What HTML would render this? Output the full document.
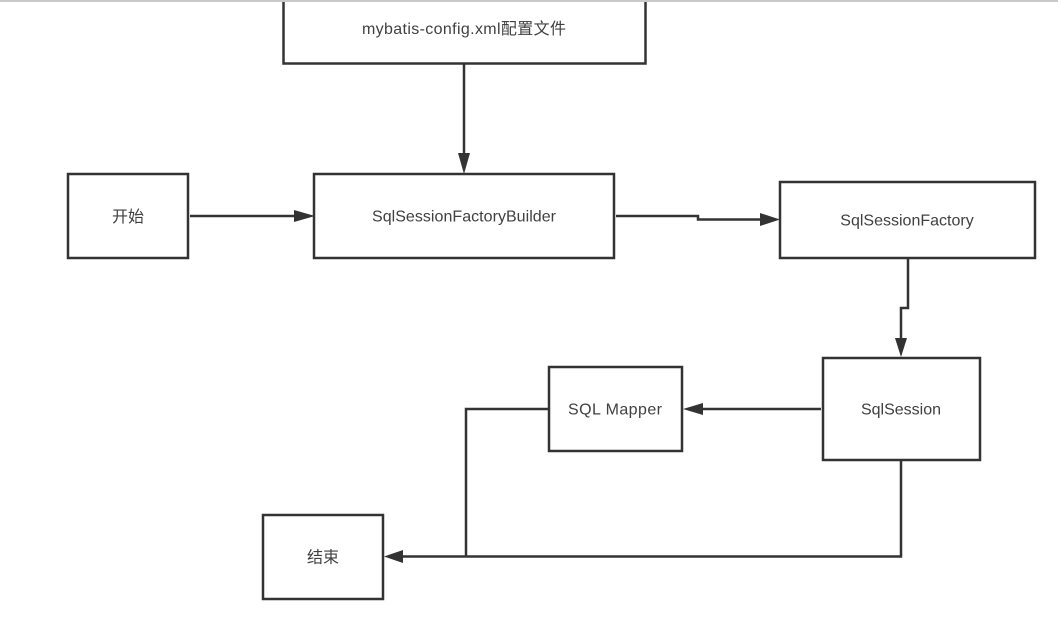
<!DOCTYPE html>
<html><head><meta charset="utf-8">
<style>
html,body{margin:0;padding:0;background:#fff;width:1058px;height:619px;overflow:hidden}
svg{display:block}
text{font-family:"Liberation Sans","Noto Sans CJK SC",sans-serif;font-size:16px;fill:#404040;text-anchor:middle}
</style></head><body>
<svg width="1058" height="619" viewBox="0 0 1058 619">
<rect x="0" y="0" width="1058" height="2" fill="#c9c9c9"/>
<g fill="#fff" stroke="#333" stroke-width="2.500">
<path d="M283.500 2V63.500H645.500V2"/>
<rect x="68" y="174" width="120" height="84"/>
<rect x="314" y="174" width="300" height="84"/>
<rect x="780" y="182" width="255" height="76"/>
<rect x="823" y="358" width="157" height="102"/>
<rect x="549" y="367" width="133" height="84"/>
<rect x="263" y="515" width="120" height="84"/>
</g>
<g fill="none" stroke="#333" stroke-width="2.500">
<path d="M464 64V156"/>
<path d="M190 216H297"/>
<path d="M616 216H698V219.500H762"/>
<path d="M908 259V308H901V340"/>
<path d="M821 409H700"/>
<path d="M549 409H466V556"/>
<path d="M901 460V556.500H402"/>
</g>
<g fill="#333">
<path d="M464 174L458 153H470Z"/>
<path d="M315 216L294 210V222Z"/>
<path d="M780 219.500L760 213V226Z"/>
<path d="M901 357L895 338H907Z"/>
<path d="M683 409L703 403V415Z"/>
<path d="M384 556.500L403 550V563Z"/>
</g>
<text x="464" y="34" textLength="204" lengthAdjust="spacing">mybatis-config.xml配置文件</text>
<text x="128" y="222">开始</text>
<text x="464" y="221.500" textLength="184" lengthAdjust="spacing">SqlSessionFactoryBuilder</text>
<text x="907" y="225.500">SqlSessionFactory</text>
<text x="901" y="414.500">SqlSession</text>
<text x="615" y="414.500" textLength="94" lengthAdjust="spacing">SQL Mapper</text>
<text x="323" y="562.500">结束</text>
</svg>
</body></html>
